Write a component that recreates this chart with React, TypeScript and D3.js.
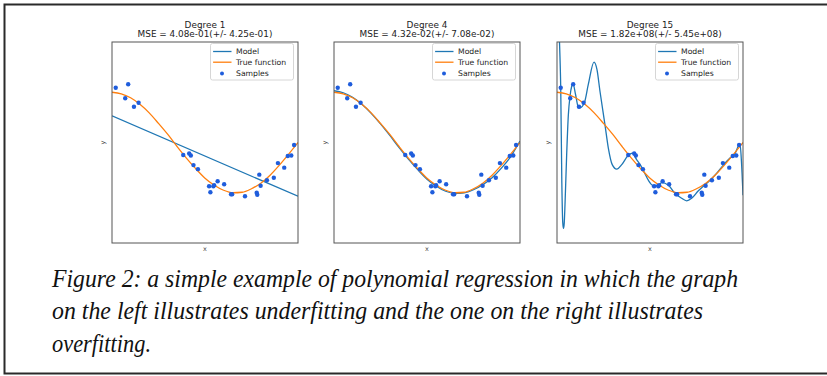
import React from 'react';
import * as d3 from 'd3';

// sample points (sorted x, noisy y)
const sampleX = [0.020, 0.071, 0.087, 0.118, 0.143, 0.383, 0.415, 0.424, 0.438, 0.462, 0.522, 0.529, 0.545, 0.549, 0.568, 0.603, 0.640, 0.646, 0.715, 0.778, 0.781, 0.792, 0.799, 0.833, 0.870, 0.892, 0.926, 0.945, 0.964, 0.979];
const sampleY = [1.09, 0.88, 1.16, 0.71, 0.79, -0.25, -0.22, -0.26, -0.45, -0.53, -0.87, -0.99, -0.87, -0.85, -0.77, -0.83, -1.03, -1.03, -1.07, -1.0, -1.04, -0.64, -0.86, -0.75, -0.70, -0.41, -0.50, -0.27, -0.26, -0.05];

// true function, read at steps of 0.05
const curveX = [0, 0.05, 0.1, 0.15, 0.2, 0.25, 0.3, 0.35, 0.4, 0.45, 0.5, 0.55, 0.6, 0.65, 0.7, 0.75, 0.8, 0.85, 0.9, 0.95, 1.0];
const trueY = [1.0, 0.97, 0.89, 0.76, 0.59, 0.38, 0.16, -0.08, -0.31, -0.52, -0.71, -0.85, -0.95, -1.0, -0.99, -0.92, -0.81, -0.65, -0.45, -0.23, 0.0];

// fitted models
const deg1X = [0, 1];
const deg1Y = [0.53, -1.07];
const deg4Y = [1.03, 0.99, 0.9, 0.76, 0.58, 0.37, 0.14, -0.1, -0.33, -0.54, -0.73, -0.87, -0.97, -1.01, -1.0, -0.94, -0.84, -0.7, -0.51, -0.28, 0.03];
const deg15X = [0, 0.008, 0.016, 0.02, 0.026, 0.031, 0.035, 0.039, 0.043, 0.052, 0.061, 0.07, 0.079, 0.086, 0.1, 0.115, 0.124, 0.147, 0.168, 0.199, 0.215, 0.231, 0.258, 0.276, 0.297, 0.321, 0.348, 0.38, 0.405, 0.428, 0.452, 0.473, 0.491, 0.518, 0.545, 0.563, 0.599, 0.634, 0.67, 0.697, 0.724, 0.76, 0.787, 0.823, 0.859, 0.894, 0.93, 0.957, 0.975, 0.984, 0.992, 1.0];
const deg15Y = [3.5, 2.6, 1.7, 1.1, -0.8, -1.6, -1.71, -1.6, -1.24, -0.24, 0.55, 0.92, 1.12, 1.17, 0.95, 0.7, 0.69, 0.79, 1.15, 1.6, 1.45, 1.02, 0.35, -0.11, -0.44, -0.53, -0.44, -0.27, -0.21, -0.34, -0.47, -0.62, -0.75, -0.86, -0.85, -0.8, -0.85, -1.01, -1.11, -1.16, -1.11, -0.96, -0.87, -0.75, -0.61, -0.45, -0.31, -0.22, -0.07, -0.03, -0.4, -1.05];

const degrees = [1, 4, 15];
const mseLabels = ['MSE = 4.08e-01(+/- 4.25e-01)', 'MSE = 4.32e-02(+/- 7.08e-02)', 'MSE = 1.82e+08(+/- 5.45e+08)'];
const modelXs = [deg1X, curveX, deg15X];
const modelYs = [deg1Y, deg4Y, deg15Y];
const legendLabels = ['Model', 'True function', 'Samples'];

const captionLines = [
  'Figure 2: a simple example of polynomial regression in which the graph',
  'on the left illustrates underfitting and the one on the right illustrates',
  'overfitting.',
];
const captionWidths = [686, 651, 99];

const W = 827;
const H = 376;
const panelLeft = [112, 334, 557];
const panelTop = 42;
const panelW = 186;
const panelH = 201;

const blue = '#1f77b4';
const orange = '#ff7f0e';
const dotColor = '#1f5ddc';
const font = 'DejaVu Sans, sans-serif';

function Panel({ i }: { i: number }) {
  const x = d3.scaleLinear().domain([0, 1]).range([0, panelW]);
  const y = d3.scaleLinear().domain([-2, 2]).range([panelH, 0]);
  const line = d3.line<[number, number]>()
    .x(d => x(d[0]))
    .y(d => y(d[1]))
    .curve(d3.curveMonotoneX);
  const modelPts = modelXs[i].map((v, k) => [v, modelYs[i][k]] as [number, number]);
  const truePts = curveX.map((v, k) => [v, trueY[k]] as [number, number]);
  const clipId = `clip${i}`;
  const lgW = 83;
  const lgX = panelW - lgW - 4.5;
  const lgY = 1.5;

  return (
    <g transform={`translate(${panelLeft[i]},${panelTop})`}>
      <defs>
        <clipPath id={clipId}>
          <rect x={0} y={0} width={panelW} height={panelH} />
        </clipPath>
      </defs>
      <text x={panelW / 2} y={-14} textAnchor="middle" fontFamily={font} fontSize={8.9} fill="#222">
        Degree {degrees[i]}
      </text>
      <text x={panelW / 2} y={-5} textAnchor="middle" fontFamily={font} fontSize={8.9} fill="#222">
        {mseLabels[i]}
      </text>
      <g clipPath={`url(#${clipId})`}>
        <path d={line(modelPts) ?? ''} fill="none" stroke={blue} strokeWidth={1.3} />
        <path d={line(truePts) ?? ''} fill="none" stroke={orange} strokeWidth={1.3} />
        {sampleX.map((v, k) => (
          <circle key={k} cx={x(v)} cy={y(sampleY[k])} r={2.2} fill={dotColor} />
        ))}
      </g>
      <rect x={0} y={0} width={panelW} height={panelH} fill="none" stroke="#555" strokeWidth={1} />
      <text x={panelW / 2} y={panelH + 8} textAnchor="middle" fontFamily={font} fontSize={6.5} fill="#444">x</text>
      <text transform={`translate(-7,${panelH / 2}) rotate(-90)`} textAnchor="middle" fontFamily={font} fontSize={6.5} fill="#444">y</text>
      <g transform={`translate(${lgX},${lgY})`}>
        <rect x={0} y={0} width={lgW} height={36.5} rx={2} fill="#fff" fillOpacity={0.85} stroke="#ccc" strokeWidth={0.8} />
        {legendLabels.map((lab, k) => {
          const cy = 8 + k * 10.7;
          return (
            <g key={lab}>
              {k === 0 && <line x1={2.6} x2={21} y1={cy} y2={cy} stroke={blue} strokeWidth={1.3} />}
              {k === 1 && <line x1={2.6} x2={21} y1={cy} y2={cy} stroke={orange} strokeWidth={1.3} />}
              {k === 2 && <circle cx={11.5} cy={cy + 0.5} r={2} fill={dotColor} />}
              <text x={25.5} y={cy + 2.7} fontFamily={font} fontSize={7.7} fill="#222">{lab}</text>
            </g>
          );
        })}
      </g>
    </g>
  );
}

export default function App() {
  return (
    <svg width={W} height={H} viewBox={`0 0 ${W} ${H}`} style={{ position: 'absolute', left: 0, top: 0, background: '#fff' }}>
      <rect x={0} y={0} width={W} height={H} fill="#fff" />
      <rect x={4.5} y={4.5} width={W + 20} height={369} fill="none" stroke="#2a2a2a" strokeWidth={2} />
      {degrees.map((_, i) => <Panel key={i} i={i} />)}
      {captionLines.map((t, k) => (
        <text key={k} x={52} y={287 + k * 32.4} fontFamily="Liberation Serif, serif" fontStyle="italic"
          fontSize={26} fill="#111" textLength={captionWidths[k]} lengthAdjust="spacingAndGlyphs">
          {t}
        </text>
      ))}
    </svg>
  );
}
